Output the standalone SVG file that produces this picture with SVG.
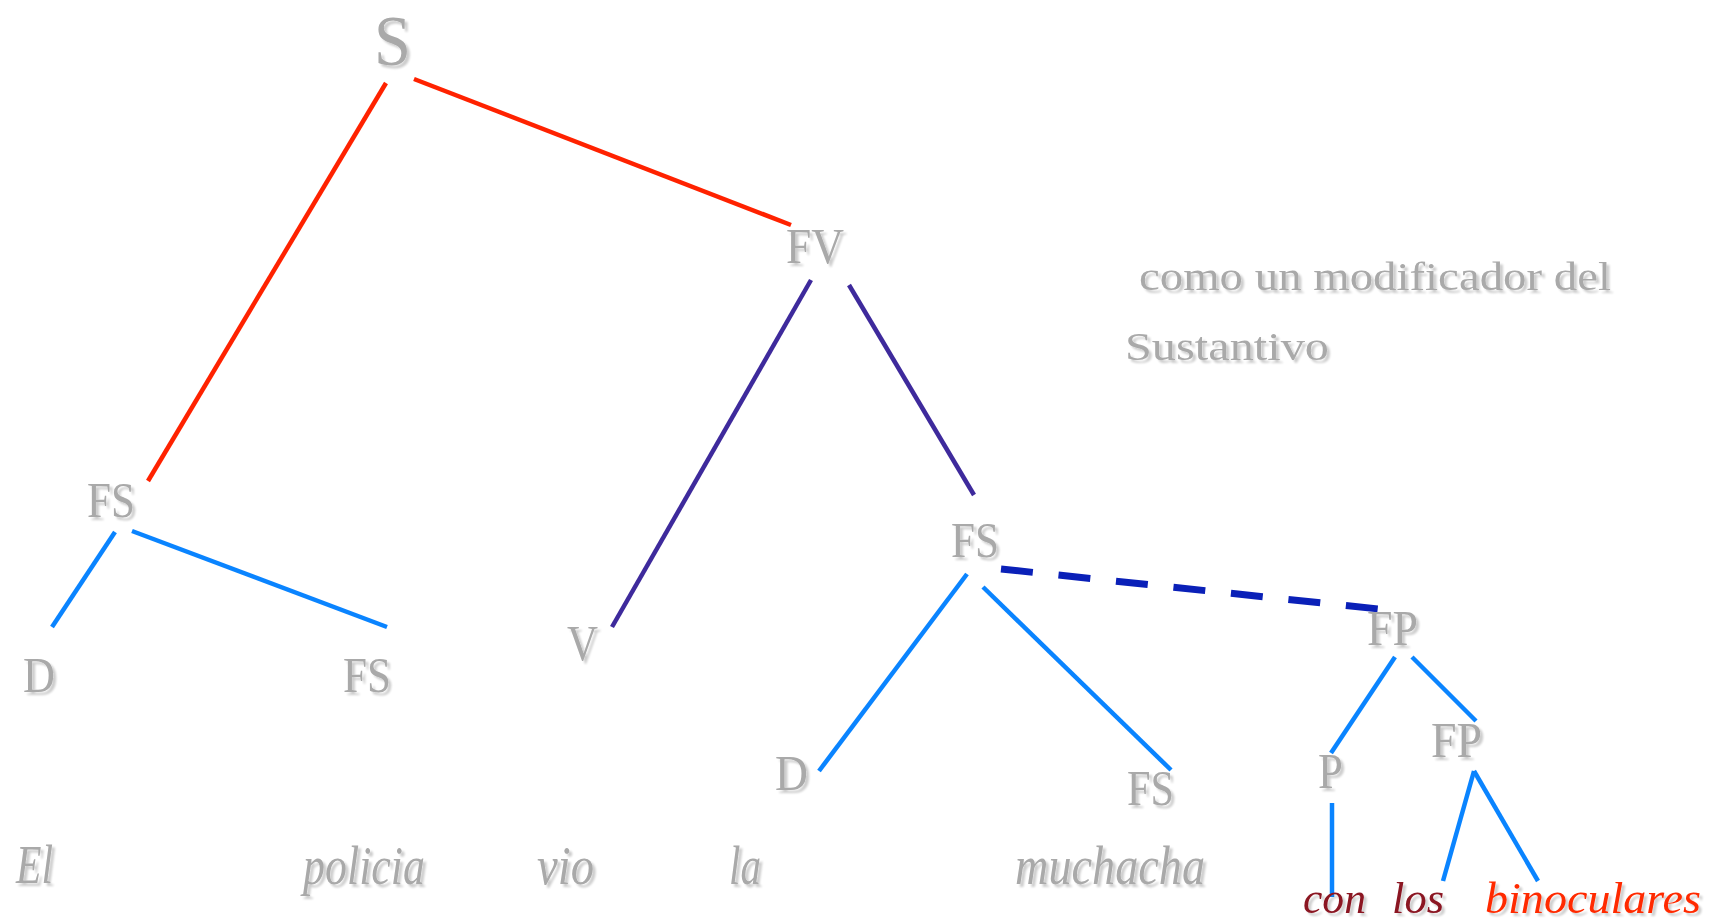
<svg xmlns="http://www.w3.org/2000/svg" width="1726" height="923" viewBox="0 0 1726 923">
<defs>
<filter id="sh" x="-20%" y="-20%" width="150%" height="150%">
<feGaussianBlur in="SourceAlpha" stdDeviation="0.8"/>
<feOffset dx="2.5" dy="2.5"/>
<feComponentTransfer><feFuncA type="linear" slope="0.2"/></feComponentTransfer>
<feMerge><feMergeNode/><feMergeNode in="SourceGraphic"/></feMerge>
</filter>
<style>
text{font-family:"Liberation Serif","DejaVu Serif",serif;filter:url(#sh)}
.lab{fill:#a9a9a9;font-size:50px}
.note{fill:#a9a9a9;font-size:39px}
.w{fill:#a9a9a9;font-size:54px;font-style:italic}
.c{fill:#8b1522;font-size:44px;font-style:italic}
.b{fill:#ff2a00;font-size:44px;font-style:italic}
.red{stroke:#ff2200;stroke-width:4.5;fill:none}
.pur{stroke:#3e2a9c;stroke-width:4.5;fill:none}
.blu{stroke:#0a84ff;stroke-width:4.5;fill:none}
.dash{stroke:#0a20b8;stroke-width:7;stroke-dasharray:32 25.8;fill:none}
</style>
</defs>
<rect width="1726" height="923" fill="#ffffff"/>
<g id="connectors">
<line class="red" x1="386" y1="83" x2="148" y2="481"/>
<line class="red" x1="414" y1="79" x2="791" y2="225"/>
<line class="pur" x1="811" y1="280" x2="612" y2="627"/>
<line class="pur" x1="849" y1="285" x2="974" y2="495"/>
<line class="blu" x1="115" y1="532" x2="52" y2="627"/>
<line class="blu" x1="132" y1="531" x2="387" y2="627"/>
<line class="blu" x1="967" y1="574" x2="819" y2="771"/>
<line class="blu" x1="983" y1="587" x2="1171" y2="770"/>
<line class="dash" x1="1001" y1="569" x2="1379" y2="609"/>
<line class="blu" x1="1395" y1="657" x2="1331" y2="753"/>
<line class="blu" x1="1412" y1="657" x2="1476" y2="721"/>
<line class="blu" x1="1332" y1="803" x2="1332" y2="897"/>
<line class="blu" x1="1474" y1="771" x2="1443" y2="881"/>
<line class="blu" x1="1474" y1="771" x2="1538" y2="881"/>
</g>
<g id="n-S"><text class="lab" x="374" y="65" style="font-size:72px" textLength="37" lengthAdjust="spacingAndGlyphs">S</text></g>
<g id="n-FV"><text class="lab" x="786" y="263" textLength="58" lengthAdjust="spacingAndGlyphs">FV</text></g>
<g id="n-FS1"><text class="lab" x="87" y="517" textLength="48" lengthAdjust="spacingAndGlyphs">FS</text></g>
<g id="n-D1"><text class="lab" x="23" y="692" textLength="32" lengthAdjust="spacingAndGlyphs">D</text></g>
<g id="n-FS2"><text class="lab" x="343" y="692" textLength="48" lengthAdjust="spacingAndGlyphs">FS</text></g>
<g id="n-V"><text class="lab" x="567" y="660" textLength="31" lengthAdjust="spacingAndGlyphs">V</text></g>
<g id="n-FS3"><text class="lab" x="951" y="557" textLength="48" lengthAdjust="spacingAndGlyphs">FS</text></g>
<g id="n-D2"><text class="lab" x="775" y="790" textLength="33" lengthAdjust="spacingAndGlyphs">D</text></g>
<g id="n-FS4"><text class="lab" x="1127" y="805" textLength="47" lengthAdjust="spacingAndGlyphs">FS</text></g>
<g id="n-FP1"><text class="lab" x="1367" y="645" textLength="51" lengthAdjust="spacingAndGlyphs">FP</text></g>
<g id="n-P"><text class="lab" x="1318" y="788" textLength="25" lengthAdjust="spacingAndGlyphs">P</text></g>
<g id="n-FP2"><text class="lab" x="1431" y="757" textLength="51" lengthAdjust="spacingAndGlyphs">FP</text></g>
<g id="note">
<text class="note" x="1139" y="290" textLength="472" lengthAdjust="spacingAndGlyphs">como un modificador del</text>
<text class="note" x="1125" y="360" textLength="204" lengthAdjust="spacingAndGlyphs">Sustantivo</text>
</g>
<g id="words">
<text class="w" x="16" y="883" textLength="37" lengthAdjust="spacingAndGlyphs">El</text>
<text class="w" x="303" y="884" textLength="122" lengthAdjust="spacingAndGlyphs">policia</text>
<text class="w" x="537" y="884" textLength="57" lengthAdjust="spacingAndGlyphs">vio</text>
<text class="w" x="729" y="884" textLength="32" lengthAdjust="spacingAndGlyphs">la</text>
<text class="w" x="1015" y="884" textLength="190" lengthAdjust="spacingAndGlyphs">muchacha</text>
<text class="c" x="1303" y="913" textLength="63" lengthAdjust="spacingAndGlyphs">con</text>
<text class="c" x="1392" y="913" textLength="52" lengthAdjust="spacingAndGlyphs">los</text>
<text class="b" x="1485" y="913" textLength="216" lengthAdjust="spacingAndGlyphs">binoculares</text>
</g>
</svg>
